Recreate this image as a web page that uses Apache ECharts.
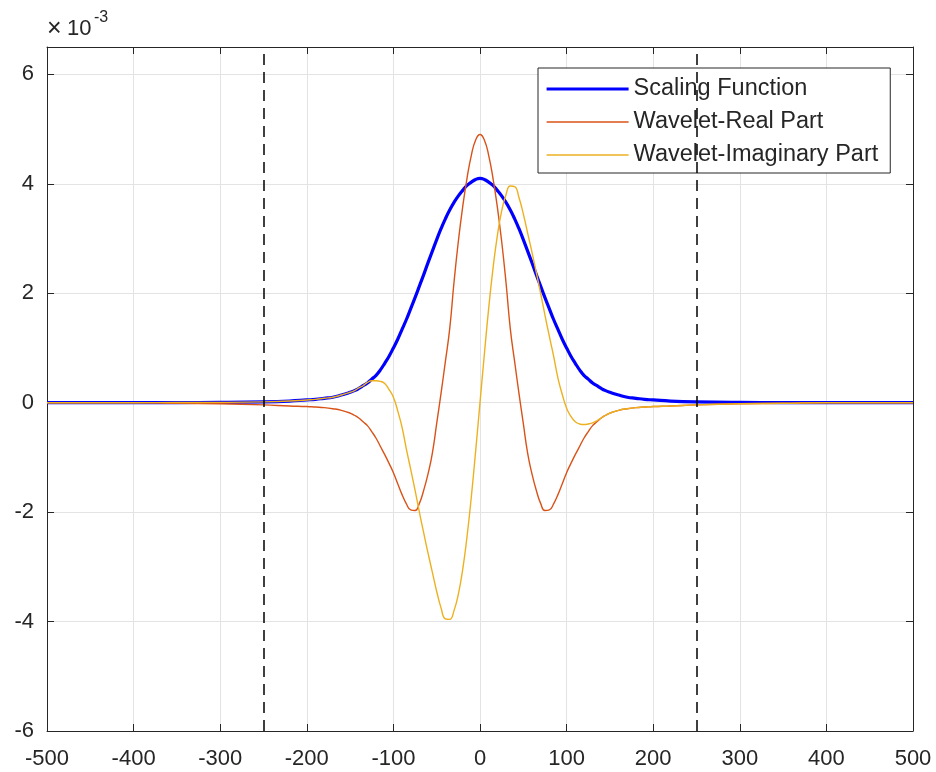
<!DOCTYPE html>
<html><head><meta charset="utf-8">
<script src="https://cdn.jsdelivr.net/npm/echarts@6/dist/echarts.min.js"></script>
<style>html,body{margin:0;padding:0;background:#fff}#c{width:936px;height:772px}</style>
</head><body><div id="c"></div>
<script>
// x positions of the samples
const xValues = [-500,-450,-400,-350,-300,-250,-220,
  -200,-190,-180,-170,-160,
  -150,-145,-140,-135,-130,-125,-120,-115,-110,-105,
  -100,-95,-90,-85,-80,-75,-70,-65,-60,-55,-50,-45,-40,-35,-30,-25,-20,-15,-10,-5,
  0,
  5,10,15,20,25,30,35,40,45,50,55,60,65,70,75,80,85,90,95,100,
  105,110,115,120,125,130,135,140,145,150,
  160,170,180,190,200,
  220,250,300,350,400,450,500];
// values in units of 1e-3
const scalingFunction = [0,0,0,0.002,0.005,0.015,0.03,
  0.05,0.06,0.08,0.10,0.14,
  0.19,0.22,0.26,0.31,0.36,0.43,0.50,0.60,0.72,0.85,
  1.00,1.16,1.34,1.52,1.72,1.92,2.13,2.34,2.56,2.77,2.98,3.18,3.36,3.52,3.66,3.78,3.88,3.97,4.03,4.08,
  4.10,
  4.08,4.03,3.97,3.88,3.78,3.66,3.52,3.36,3.18,2.98,2.77,2.56,2.34,2.13,1.92,1.72,1.52,1.34,1.16,1.00,
  0.85,0.72,0.60,0.50,0.43,0.36,0.31,0.26,0.22,0.19,
  0.14,0.10,0.08,0.06,0.05,
  0.03,0.015,0.005,0.002,0,0,0];
const waveletReal = [0,0,0,-0.01,-0.02,-0.04,-0.06,
  -0.07,-0.08,-0.09,-0.11,-0.14,
  -0.19,-0.23,-0.28,-0.35,-0.42,-0.53,-0.65,-0.80,-0.95,-1.11,
  -1.28,-1.48,-1.68,-1.85,-1.96,-1.97,-1.84,-1.60,-1.30,-0.92,-0.38,0.17,0.75,1.35,2.20,2.95,3.58,4.10,4.52,4.80,
  4.90,
  4.80,4.52,4.10,3.58,2.95,2.20,1.35,0.75,0.17,-0.38,-0.92,-1.30,-1.60,-1.84,-1.97,-1.96,-1.85,-1.68,-1.48,-1.28,
  -1.11,-0.95,-0.80,-0.65,-0.53,-0.42,-0.35,-0.28,-0.23,-0.19,
  -0.14,-0.11,-0.09,-0.08,-0.07,
  -0.06,-0.04,-0.02,-0.01,0,0,0];
const waveletImag = [0,0,0,0.002,0.005,0.015,0.03,
  0.05,0.06,0.08,0.10,0.14,
  0.19,0.22,0.27,0.31,0.37,0.40,0.40,0.39,0.35,0.24,
  0.10,-0.15,-0.45,-0.85,-1.22,-1.60,-2.00,-2.38,-2.75,-3.10,-3.45,-3.75,-3.95,-3.96,-3.80,-3.50,-3.05,-2.45,-1.72,-0.88,
  0,
  0.88,1.72,2.45,3.05,3.50,3.80,3.96,3.95,3.75,3.45,3.10,2.75,2.38,2.00,1.60,1.22,0.85,0.45,0.15,-0.10,
  -0.25,-0.35,-0.39,-0.40,-0.39,-0.37,-0.33,-0.28,-0.23,-0.19,
  -0.14,-0.11,-0.09,-0.08,-0.07,
  -0.06,-0.04,-0.02,-0.01,0,0,0];
const seriesNames = ['Scaling Function','Wavelet-Real Part','Wavelet-Imaginary Part'];
const boundaryLines = [-250, 250];

const zip = arr => xValues.map((x,i)=>[x, arr[i]]);
const axisColor = '#262626';
const font = 'Liberation Sans, Arial, Helvetica, sans-serif';
const colors = ['#0000ff','#d95319','#edb120'];
const widths = [3.2, 1.4, 1.4];
const chart = echarts.init(document.getElementById('c'));
const xCommon = {type:'value', min:-500, max:500, interval:100,
  axisLine:{show:true, onZero:false, lineStyle:{color:axisColor, width:1}},
  axisTick:{show:true, inside:true, length:7, lineStyle:{color:axisColor}}};
const yCommon = {type:'value', min:-6, max:6.5, interval:2,
  axisLine:{show:true, onZero:false, lineStyle:{color:axisColor, width:1}},
  axisTick:{show:true, inside:true, length:7, lineStyle:{color:axisColor}}};
chart.setOption({
  animation:false,
  backgroundColor:'#fff',
  grid:{left:47, right:23, top:47, bottom:41, containLabel:false},
  xAxis:[
    Object.assign({}, xCommon, {position:'bottom',
      axisLabel:{show:true, margin:17, color:axisColor, fontSize:22, fontFamily:font},
      splitLine:{show:true, lineStyle:{color:'#e3e3e3', width:1}}}),
    Object.assign({}, xCommon, {position:'top', axisLabel:{show:false}, splitLine:{show:false}})
  ],
  yAxis:[
    Object.assign({}, yCommon, {position:'left',
      axisLabel:{show:true, margin:13, color:axisColor, fontSize:22, fontFamily:font, showMaxLabel:false,
        formatter: v => (v > 6.1 ? '' : String(v))},
      splitLine:{show:true, lineStyle:{color:'#e3e3e3', width:1}}}),
    Object.assign({}, yCommon, {position:'right', axisLabel:{show:false}, splitLine:{show:false}})
  ],
  legend:{
    show:true, orient:'vertical', left:538, top:68,
    data:seriesNames.map((n,i)=>({name:n, itemStyle:{opacity:0}, lineStyle:{color:colors[i], width:widths[i]}})),
    itemWidth:82, itemHeight:14, itemGap:9,
    padding:[9,12,6,7],
    borderColor:axisColor, borderWidth:1, backgroundColor:'#fff',
    textStyle:{fontSize:23.5, color:axisColor, fontFamily:font},
    selectedMode:false
  },
  graphic:[
    {type:'text', left:47, top:17, style:{text:'×', fontSize:25, fill:axisColor, fontFamily:font}},
    {type:'text', left:67, top:18, style:{text:'10', fontSize:22, fill:axisColor, fontFamily:font}},
    {type:'text', left:94, top:10, style:{text:'-3', fontSize:16, fill:axisColor, fontFamily:font}}
  ],
  series:seriesNames.map((n,i)=>{
    const s = {name:n, type:'line', data:zip([scalingFunction, waveletReal, waveletImag][i]), smooth:0.5,
      showSymbol:false, symbol:'none', lineStyle:{color:colors[i], width:widths[i]}, itemStyle:{color:colors[i]}};
    if (i===0) s.markLine = {silent:true, symbol:['none','none'], label:{show:false},
        lineStyle:{color:'#000', type:[11,7], width:1.5},
        data: boundaryLines.map(v=>({xAxis:v}))};
    return s;
  })
});
</script></body></html>
